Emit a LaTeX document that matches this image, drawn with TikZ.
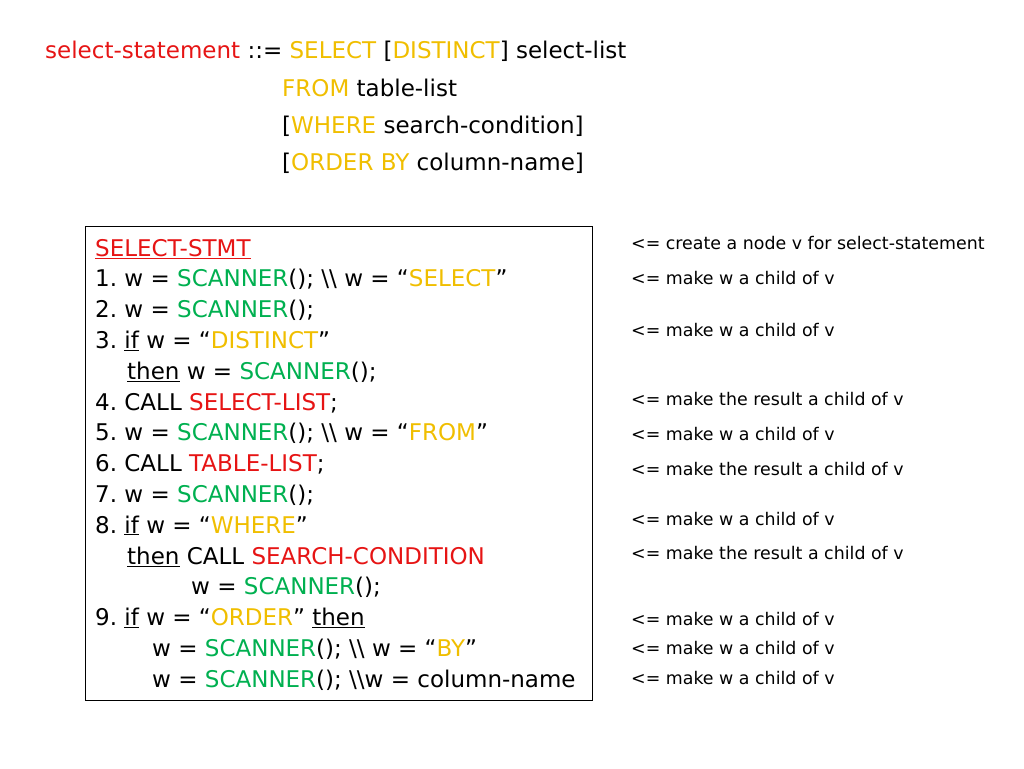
\documentclass[tikz,border=0pt]{standalone}
\usepackage{fontspec}
\setmainfont{DejaVu Sans}
\frenchspacing
\definecolor{kred}{RGB}{230,20,20}
\definecolor{kyel}{RGB}{240,190,0}
\definecolor{kgrn}{RGB}{0,176,80}
\newcommand{\R}[1]{\textcolor{kred}{#1}}
\newcommand{\Y}[1]{\textcolor{kyel}{#1}}
\newcommand{\G}[1]{\textcolor{kgrn}{#1}}
\begin{document}
\begin{tikzpicture}[x=1pt,y=-1pt,
  big/.style={anchor=base west,inner sep=0pt,font=\fontsize{23}{23}\selectfont},
  small/.style={anchor=base west,inner sep=0pt,font=\fontsize{17.4}{17.4}\selectfont}]
\useasboundingbox (0,0) rectangle (1024,768);
\node[big] (t1) at (45,59) {\R{select-statement} ::= \Y{SELECT} [\Y{DISTINCT}] select-list};
\node[big] (t2) at (282,96) {\Y{FROM} table-list};
\node[big] (t3) at (282,133) {[\Y{WHERE} search-condition]};
\node[big] (t4) at (282,170) {[\Y{ORDER BY} column-name]};
\node[draw,thick,inner sep=0pt,minimum width=507pt,minimum height=474pt,anchor=north west] (box) at (85,226) {};
\def\s{30.8}
\node[big] (l0) at (95,256) {\R{\underline{SELECT-STMT}}};
\node[big] (l1) at (95,256+\s) {1. w = \G{SCANNER}(); \textbackslash\textbackslash{} w = “\Y{SELECT}”};
\node[big] (l2) at (95,256+2*\s) {2. w = \G{SCANNER}();};
\node[big] (l3) at (95,256+3*\s) {3. \underline{if} w = “\Y{DISTINCT}”};
\node[big] (l4) at (127,256+4*\s) {\underline{then} w = \G{SCANNER}();};
\node[big] (l5) at (95,256+5*\s) {4. CALL \R{SELECT-LIST};};
\node[big] (l6) at (95,256+6*\s) {5. w = \G{SCANNER}(); \textbackslash\textbackslash{} w = “\Y{FROM}”};
\node[big] (l7) at (95,256+7*\s) {6. CALL \R{TABLE-LIST};};
\node[big] (l8) at (95,256+8*\s) {7. w = \G{SCANNER}();};
\node[big] (l9) at (95,256+9*\s) {8. \underline{if} w = “\Y{WHERE}”};
\node[big] (l10) at (127,256+10*\s) {\underline{then} CALL \R{SEARCH-CONDITION}};
\node[big] (l11) at (191,256+11*\s) {w = \G{SCANNER}();};
\node[big] (l12) at (95,256+12*\s) {9. \underline{if} w = “\Y{ORDER}” \underline{then}};
\node[big] (l13) at (152,256+13*\s) {w = \G{SCANNER}(); \textbackslash\textbackslash{} w = “\Y{BY}”};
\node[big] (l14) at (152,256+14*\s) {w = \G{SCANNER}(); \textbackslash\textbackslash w = column-name};
\node[small] (r1) at (631,249) {<= create a node v for select-statement};
\node[small] (r2) at (631,284) {<= make w a child of v};
\node[small] (r3) at (631,336) {<= make w a child of v};
\node[small] (r4) at (631,405) {<= make the result a child of v};
\node[small] (r5) at (631,440) {<= make w a child of v};
\node[small] (r6) at (631,475) {<= make the result a child of v};
\node[small] (r7) at (631,525) {<= make w a child of v};
\node[small] (r8) at (631,559) {<= make the result a child of v};
\node[small] (r9) at (631,625) {<= make w a child of v};
\node[small] (r10) at (631,654) {<= make w a child of v};
\node[small] (r11) at (631,684) {<= make w a child of v};
\end{tikzpicture}
\end{document}
